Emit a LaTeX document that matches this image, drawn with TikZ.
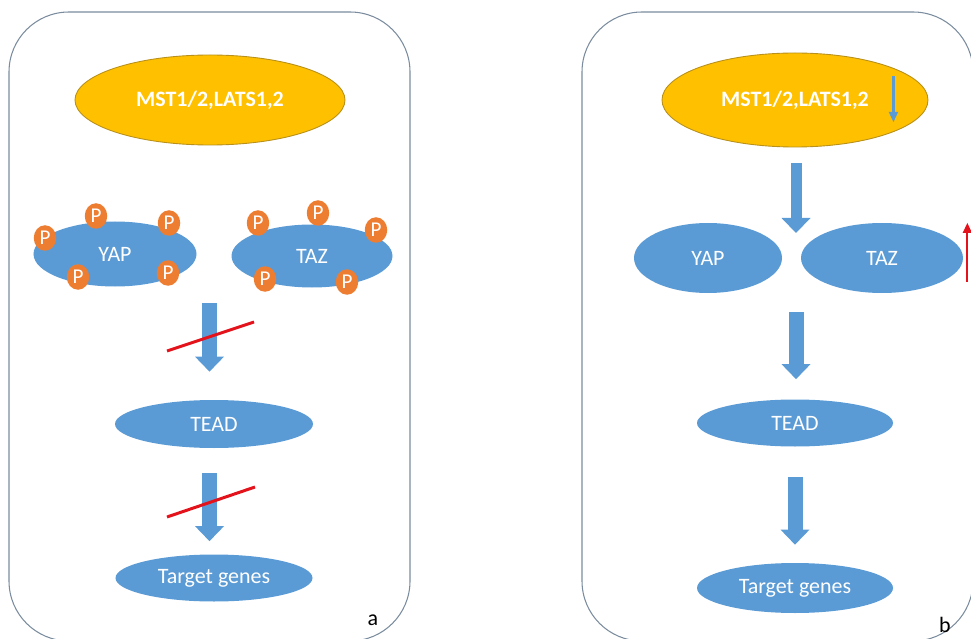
\documentclass[tikz,border=0pt]{standalone}
\usepackage{fontspec}
\setmainfont{Carlito}
\usetikzlibrary{arrows.meta,positioning,calc,shapes.geometric}
\definecolor{hipBlue}{HTML}{5B9BD5}
\definecolor{hipGold}{HTML}{FFC000}
\definecolor{hipGoldLine}{HTML}{B8901A}
\definecolor{hipOrange}{HTML}{ED7D31}
\definecolor{hipRed}{HTML}{E3121B}
\definecolor{hipFrame}{HTML}{7A8C9E}
\tikzset{
  panel/.style={draw=hipFrame, line width=0.6pt, rounded corners=12mm},
  kin/.style={ellipse, fill=hipGold, draw=hipGoldLine, line width=0.5pt, inner sep=0pt, text=white, font=\fontsize{12.5}{15}\selectfont\bfseries},
  prot/.style={ellipse, fill=hipBlue, inner sep=0pt, text=white, font=\fontsize{12.5}{15}\selectfont},
  phos/.style={ellipse, fill=hipOrange, inner sep=0pt, minimum width=4.5mm, minimum height=5.1mm, text=white, font=\fontsize{12}{14}\selectfont},
  blockarr/.style={hipBlue, line width=3mm, -{Triangle[width=5.8mm, length=3mm, line width=0pt]}},
  pointer/.style={line width=0.6mm, -{Triangle[width=1.9mm, length=2mm, line width=0pt]}},
  cut/.style={hipRed, line width=1.7pt},
  tag/.style={font=\fontsize{12.5}{15}\selectfont},
}

\begin{document}
\begin{tikzpicture}[x=0.2mm, y=-0.2mm]
  \useasboundingbox (0,0) rectangle (971,639);
  \clip (0,0) rectangle (971,639);
  \draw[panel] (9,12) rectangle (410,641);
  \draw[panel] (582,12) rectangle (973,641);

  % panel a
  \node[kin, minimum width=54mm, minimum height=18mm] (amst) at (210,100) {MST1/2,LATS1,2};
  \node[prot, minimum width=32.6mm, minimum height=13mm] (ayap) at (115,254) {YAP};
  \node[prot, minimum width=32.2mm, minimum height=12.6mm] (ataz) at (312,256) {TAZ};
  % phosphate groups
  \foreach \x/\y [count=\i] in {45/238, 96/216, 169/223, 78/277, 168/273}
    \node[phos] (ayp\i) at (\x,\y) {P};
  \foreach \x/\y [count=\i] in {258/223, 318/213, 376/230, 265/279, 347/282}
    \node[phos] (atp\i) at (\x,\y) {P};
  \node[prot, minimum width=39.6mm, minimum height=9.6mm] (atead) at (214,424) {TEAD};
  \node[prot, minimum width=39.4mm, minimum height=9.4mm] (atarget) at (214,578) {Target genes};
  \coordinate (ajoin) at (209.5,287);
  \draw[blockarr, shorten <=3.2mm, shorten >=5.6mm] (ajoin) -- (ajoin |- atead.north);
  \draw[blockarr, shorten <=5mm, shorten >=2.6mm] (atead.south -| ajoin) -- (ajoin |- atarget.north);
  % blocked steps
  \draw[cut] (167,351) -- (254,322);
  \draw[cut] (167,517) -- (255,487);
  \node[tag] (alabel) at (373,620) {a};

  % panel b
  \node[kin, minimum width=53.2mm, minimum height=18.8mm] (bmst) at (795,100) {MST1/2,LATS1,2};
  \node[prot, minimum width=29.6mm, minimum height=14mm] (byap) at (708,258) {YAP};
  \node[prot, minimum width=32.4mm, minimum height=14mm] (btaz) at (882,258) {TAZ};
  \node[prot, minimum width=39.2mm, minimum height=9.4mm] (btead) at (795,423) {TEAD};
  \node[prot, minimum width=39.2mm, minimum height=10mm] (btarget) at (795,588) {Target genes};
  \coordinate (bjoin) at (796,258);
  \draw[blockarr, line width=2.2mm, shorten <=3.2mm, shorten >=5mm] (bmst.south -| bjoin) -- (bjoin);
  \draw[blockarr, shorten <=10.8mm, shorten >=4mm] (bjoin) -- (bjoin |- btead.north);
  \draw[blockarr, shorten <=6mm, shorten >=3.6mm] (btead) -- (btarget);
  % down / up
  \draw[pointer, hipBlue] ($(bmst.east)+(-35,-24)$) -- ++(0,46);
  \draw[pointer, hipRed, line width=0.4mm] ($(btaz.east)+(4,24)$) -- ++(0,-59);
  \node[tag] (blabel) at (945,625) {b};
\end{tikzpicture}
\end{document}
